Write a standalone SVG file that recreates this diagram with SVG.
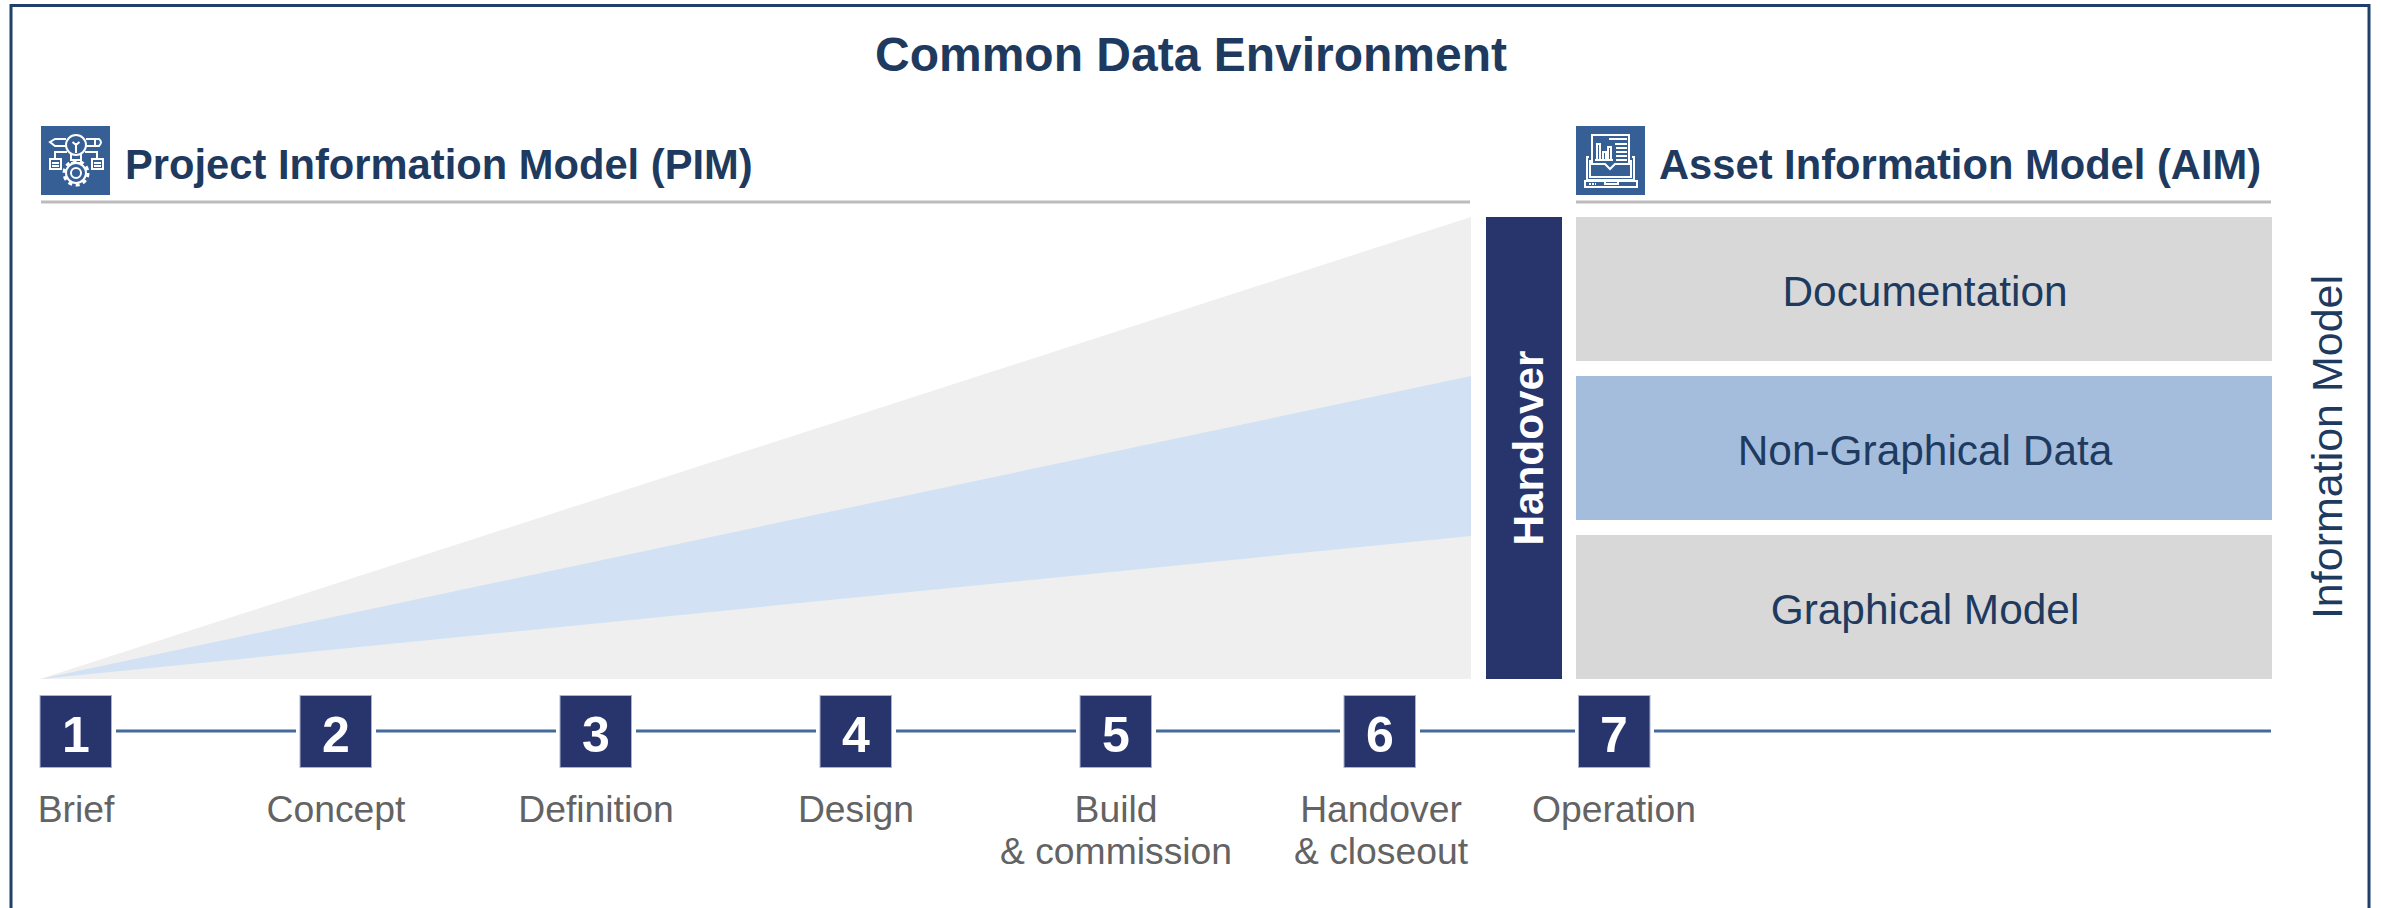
<svg xmlns="http://www.w3.org/2000/svg" width="2381" height="908" viewBox="0 0 2381 908">
<style>
text{font-family:"Liberation Sans",Arial,sans-serif}
.h{font-weight:700;fill:#1f3a5f}
.hd{font-size:41.700px}
.box{font-size:42.400px;fill:#1f3a5f;text-anchor:middle}
.num{font-size:50px;font-weight:700;fill:#fff;text-anchor:middle}
.lab{font-size:37.300px;fill:#636363;text-anchor:middle}
.sq{fill:#28356d;stroke:#aab3d2;stroke-width:1}
.rule{stroke:#bcbcbc;stroke-width:3}
.conn{stroke:#44699b;stroke-width:3}
.ic{fill:none;stroke:#fff;stroke-width:2}
.icb{fill:#355f95}
</style>
<rect id="frame" x="11" y="5.500" width="2358" height="920" fill="#fff" stroke="#20406a" stroke-width="3"/>
<text id="title" class="h" x="1191" y="71" font-size="48" text-anchor="middle">Common Data Environment</text>
<g id="pim-header">
<rect class="icb" x="41" y="126" width="69" height="69"/>
<g class="ic">
<path d="M66 139H55L50 142L55 146H66M86 139H99Q103 142 99 146H86M95 139V146"/>
<circle cx="76" cy="145" r="10"/>
<path d="M71 154V160H81V154M71 163H81"/>
<path d="M76 143V153M72.500 142L76 145L79.500 142"/>
<path d="M67 152H55V158M85 152H97V158"/>
<rect x="50" y="159" width="11" height="10"/><rect x="92" y="159" width="11" height="10"/>
<path d="M52 163H59M52 166H59M94 163H101M94 166H101"/>
<circle cx="76" cy="173" r="5"/>
<circle cx="76" cy="173" r="10" stroke-width="2"/>
<circle cx="76" cy="173" r="12" stroke-width="3" stroke-dasharray="4 3.540"/>
</g>
<text class="h hd" x="125" y="179">Project Information Model (PIM)</text>
<line class="rule" x1="41" y1="202" x2="1470" y2="202"/>
</g>
<g id="aim-header">
<rect class="icb" x="1576" y="126" width="69" height="69"/>
<g class="ic">
<path d="M1592 135H1629V164H1615L1610 169L1605 164H1592Z"/>
<path d="M1589 157H1587V180H1634V157H1632M1590 160V177H1631V160"/>
<path d="M1585 181H1637V187H1585Z"/>
<path d="M1605 181V184H1618V181"/>
<path d="M1589 184H1596" stroke-dasharray="2 1"/>
<path d="M1597 160V144H1600V160M1603 160V152H1606V160M1608 160V147H1611V160M1595 160H1613"/>
<path d="M1609 139H1627M1615 144H1627M1616 148H1627M1616 152H1627M1616 156H1627M1616 160H1627"/>
</g>
<text class="h hd" x="1659" y="179">Asset Information Model (AIM)</text>
<line class="rule" x1="1576" y1="202" x2="2271" y2="202"/>
</g>
<g id="wedge">
<polygon points="40,679 1471,217 1471,679" fill="#efefef"/>
<polygon points="40,679 1471,376 1471,536" fill="#d2e2f4"/>
</g>
<g id="handover">
<rect x="1486" y="217" width="76" height="462" fill="#28356d"/>
<text transform="translate(1543,448) rotate(-90)" font-size="42.300" font-weight="700" fill="#fff" text-anchor="middle">Handover</text>
</g>
<g id="documentation"><rect x="1576" y="217" width="696" height="144" fill="#d8d8d8"/><text class="box" x="1925" y="306">Documentation</text></g>
<g id="non-graphical"><rect x="1576" y="376" width="696" height="144" fill="#a5bddd"/><text class="box" x="1925" y="465">Non-Graphical Data</text></g>
<g id="graphical"><rect x="1576" y="535" width="696" height="144" fill="#d8d8d8"/><text class="box" x="1925" y="624">Graphical Model</text></g>
<text id="information-model" transform="translate(2342,447) rotate(-90)" font-size="43" fill="#1f3a5f" text-anchor="middle">Information Model</text>
<g id="connectors">
<line class="conn" x1="116" y1="731" x2="296" y2="731"/>
<line class="conn" x1="376" y1="731" x2="556" y2="731"/>
<line class="conn" x1="636" y1="731" x2="816" y2="731"/>
<line class="conn" x1="896" y1="731" x2="1076" y2="731"/>
<line class="conn" x1="1156" y1="731" x2="1340" y2="731"/>
<line class="conn" x1="1420" y1="731" x2="1575" y2="731"/>
<line class="conn" x1="1654" y1="731" x2="2271" y2="731"/>
</g>
<g id="stage-1"><rect class="sq" x="40" y="695.500" width="71.500" height="72"/><text class="num" x="76" y="752">1</text><text class="lab" x="76" y="822">Brief</text></g>
<g id="stage-2"><rect class="sq" x="300" y="695.500" width="71.500" height="72"/><text class="num" x="336" y="752">2</text><text class="lab" x="336" y="822">Concept</text></g>
<g id="stage-3"><rect class="sq" x="560" y="695.500" width="71.500" height="72"/><text class="num" x="596" y="752">3</text><text class="lab" x="596" y="822">Definition</text></g>
<g id="stage-4"><rect class="sq" x="820" y="695.500" width="71.500" height="72"/><text class="num" x="856" y="752">4</text><text class="lab" x="856" y="822">Design</text></g>
<g id="stage-5"><rect class="sq" x="1080" y="695.500" width="71.500" height="72"/><text class="num" x="1116" y="752">5</text><text class="lab" x="1116" y="822">Build</text><text class="lab" x="1116" y="864">&amp; commission</text></g>
<g id="stage-6"><rect class="sq" x="1344" y="695.500" width="71.500" height="72"/><text class="num" x="1380" y="752">6</text><text class="lab" x="1381" y="822">Handover</text><text class="lab" x="1381" y="864">&amp; closeout</text></g>
<g id="stage-7"><rect class="sq" x="1578.500" y="695.500" width="71.500" height="72"/><text class="num" x="1614" y="752">7</text><text class="lab" x="1614" y="822">Operation</text></g>
</svg>
